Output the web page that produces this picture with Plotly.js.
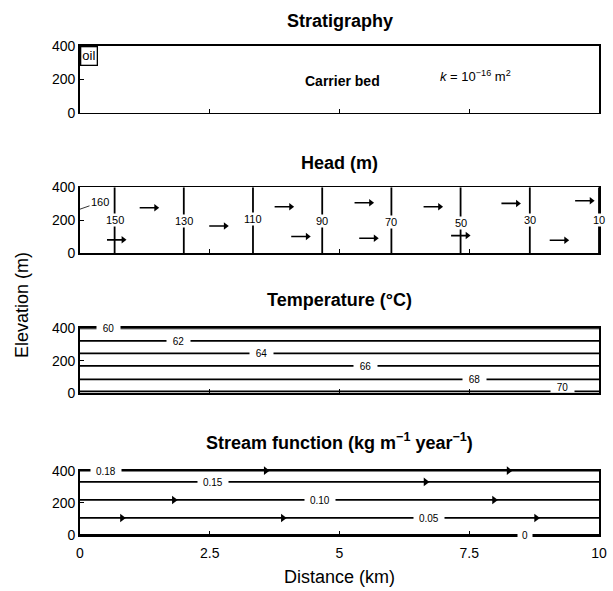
<!DOCTYPE html>
<html><head><meta charset="utf-8">
<script src="https://cdn.plot.ly/plotly-3.0.1.min.js"></script>
<style>html,body{margin:0;padding:0;background:#fff}</style>
</head><body><div id="chart" style="width:613px;height:591px"></div>
<script>
// ---------- data ----------
const distanceTicks = [0, 2.5, 5, 7.5, 10];
const distanceTickText = ['0', '2.5', '5', '7.5', '10'];
const elevationTicks = [0, 200, 400];
const elevationTickText = ['0', '200', '400'];

const panelTitles = ['Stratigraphy', 'Head (m)', 'Temperature (°C)',
  'Stream function (kg m<sup>−1</sup> year<sup>−1</sup>)'];

// Head (m): vertical isolines
const headLevels = [150, 130, 110, 90, 70, 50, 30, 10];
const headX = [0.667, 2.0, 3.333, 4.667, 6.0, 7.333, 8.667, 10];
const headLabelElev = [198, 192, 206, 196, 186, 184, 198, 202];
const headLeftLevel = 160;
const headLeftElev = 267;
// flow arrows (tail position)
const headArrowX = [0.52, 1.15, 2.49, 3.75, 4.07, 5.29, 5.38, 6.62, 7.15, 8.12, 9.05, 9.54];
const headArrowElev = [80, 276, 164, 282, 100, 306, 90, 282, 106, 302, 78, 318];

// Temperature (°C): horizontal isotherms
const tempLevels = [60, 62, 64, 66, 68, 70];
const tempElev = [400, 323, 246, 169, 86, 12];
const tempLabelX = [0.54, 1.9, 3.5, 5.5, 7.6, 9.3];
const tempLabelElev = [400, 323, 246, 169, 86, 36];

// Stream function: streamlines
const streamLevels = ['0.18', '0.15', '0.10', '0.05', '0'];
const streamElev = [400, 330, 218, 106, 0];
const streamLabelX = [0.5, 2.57, 4.63, 6.72, 8.58];
const streamArrowX = [3.58, 8.26, 6.66, 1.81, 7.98, 0.81, 3.91, 8.79];
const streamArrowElev = [400, 400, 330, 218, 218, 106, 106, 106];

// ---------- styling ----------
const FONT = 'Liberation Sans, Arial, Helvetica, sans-serif';
const BLACK = '#000000';
const LW = 1.8;
const arrowLenKm = 0.385, headTipBackKm = 0.072;

const traces = [];
// invisible trace to anchor stratigraphy axes
traces.push({x: [0, 10], y: [0, 400], xaxis: 'x', yaxis: 'y', mode: 'markers',
  marker: {opacity: 0}, hoverinfo: 'skip', showlegend: false});

// head isolines
{
  const xs = [], ys = [];
  headX.forEach(h => { xs.push(h, h, null); ys.push(0, 400, null); });
  traces.push({x: xs, y: ys, xaxis: 'x2', yaxis: 'y2', mode: 'lines',
    line: {color: BLACK, width: LW}, hoverinfo: 'skip', showlegend: false});
}
// head arrows
{
  const xs = [], ys = [], tx = [];
  headArrowX.forEach((a, i) => {
    const c = a + arrowLenKm - headTipBackKm;
    xs.push(a, c, null); ys.push(headArrowElev[i], headArrowElev[i], null);
    tx.push(c);
  });
  traces.push({x: xs, y: ys, xaxis: 'x2', yaxis: 'y2', mode: 'lines',
    line: {color: BLACK, width: 1.6}, hoverinfo: 'skip', showlegend: false});
  traces.push({x: tx, y: headArrowElev, xaxis: 'x2', yaxis: 'y2', mode: 'markers',
    marker: {symbol: 'triangle-right', size: 6.5, color: BLACK, line: {width: 0}},
    cliponaxis: false, hoverinfo: 'skip', showlegend: false});
}
// temperature lines
{
  const xs = [], ys = [];
  tempElev.forEach(e => { xs.push(0, 10, null); ys.push(e, e, null); });
  traces.push({x: xs, y: ys, xaxis: 'x3', yaxis: 'y3', mode: 'lines',
    line: {color: BLACK, width: LW}, hoverinfo: 'skip', showlegend: false});
}
// stream lines
{
  const xs = [], ys = [];
  streamElev.forEach(e => { xs.push(0, 10, null); ys.push(e, e, null); });
  traces.push({x: xs, y: ys, xaxis: 'x4', yaxis: 'y4', mode: 'lines',
    line: {color: BLACK, width: LW}, hoverinfo: 'skip', showlegend: false});
  traces.push({x: streamArrowX, y: streamArrowElev, xaxis: 'x4', yaxis: 'y4', mode: 'markers',
    marker: {symbol: 'triangle-right', size: 7.5, color: BLACK, line: {width: 0}},
    cliponaxis: false, hoverinfo: 'skip', showlegend: false});
}

// ---------- axes ----------
const yDomains = [[0.8636, 1], [0.5767, 0.7110], [0.2898, 0.4227], [0, 0.1315]];
const titleY = [1.0511, 0.7607, 0.4806, 0.1922];
const layout = {
  width: 613, height: 591,
  margin: {l: 80, r: 14, t: 46, b: 56},
  paper_bgcolor: '#fff', plot_bgcolor: '#fff',
  font: {family: FONT, color: BLACK, size: 14},
  showlegend: false,
  annotations: []
};
for (let i = 0; i < 4; i++) {
  const s = i === 0 ? '' : String(i + 1);
  layout['xaxis' + s] = {
    domain: [0, 1], range: [0, 10], anchor: 'y' + s,
    tickvals: distanceTicks, ticktext: distanceTickText,
    showticklabels: i === 3, ticks: 'inside', ticklen: 4, tickwidth: 1.3, tickcolor: BLACK,
    showline: true, linewidth: LW, linecolor: BLACK, mirror: true,
    showgrid: false, zeroline: false, fixedrange: true,
    tickfont: {size: 14, color: BLACK, family: FONT}, ticklabelstandoff: 4
  };
  layout['yaxis' + s] = {
    domain: yDomains[i], range: [0, 400], anchor: 'x' + s,
    tickvals: elevationTicks, ticktext: elevationTickText,
    ticks: 'inside', ticklen: 4, tickwidth: 1.3, tickcolor: BLACK,
    showline: true, linewidth: LW, linecolor: BLACK, mirror: true,
    showgrid: false, zeroline: false, fixedrange: true,
    tickfont: {size: 14, color: BLACK, family: FONT}
  };
  layout.annotations.push({
    text: '<b>' + panelTitles[i] + '</b>', xref: 'paper', yref: 'paper',
    x: 0.5, y: titleY[i], xanchor: 'center', yanchor: 'middle', showarrow: false,
    font: {size: 18, family: FONT, color: BLACK}
  });
}
// axis titles
layout.annotations.push({text: 'Elevation (m)', xref: 'paper', yref: 'paper',
  x: -0.1118, y: 0.4703, xanchor: 'center', yanchor: 'middle', textangle: -90,
  showarrow: false, font: {size: 18, family: FONT, color: BLACK}});
layout.annotations.push({text: 'Distance (km)', xref: 'paper', yref: 'paper',
  x: 0.5, y: -0.0859, xanchor: 'center', yanchor: 'middle',
  showarrow: false, font: {size: 18, family: FONT, color: BLACK}});

// stratigraphy labels
layout.annotations.push({text: 'oil', xref: 'x', yref: 'y', x: 0, y: 400,
  xanchor: 'left', yanchor: 'top', showarrow: false, bordercolor: BLACK,
  borderwidth: 1.3, borderpad: 1, bgcolor: '#fff', font: {size: 13, family: FONT, color: BLACK}});
layout.annotations.push({text: '<b>Carrier bed</b>', xref: 'x', yref: 'y', x: 5.05, y: 192,
  showarrow: false, font: {size: 14, family: FONT, color: BLACK}});
layout.annotations.push({text: '<i>k</i> = 10<sup>−16</sup> m<sup>2</sup>', xref: 'x', yref: 'y',
  x: 7.62, y: 218, showarrow: false, font: {size: 13, family: FONT, color: BLACK}});

// head labels
headLevels.forEach((lv, i) => {
  layout.annotations.push({text: String(lv), xref: 'x2', yref: 'y2', x: headX[i], y: headLabelElev[i],
    showarrow: false, bgcolor: '#fff', borderpad: 0,
    font: {size: 11, family: FONT, color: BLACK}});
});
layout.annotations.push({text: String(headLeftLevel), xref: 'x2', yref: 'y2', x: 0, y: headLeftElev,
  showarrow: true, arrowhead: 0, arrowwidth: 0.8, arrowcolor: BLACK, ax: 20, ay: -7,
  font: {size: 11, family: FONT, color: BLACK}});

// temperature labels
tempLevels.forEach((lv, i) => {
  const t = String(lv);
  layout.annotations.push({text: t, xref: 'x3', yref: 'y3', x: tempLabelX[i], y: tempLabelElev[i],
    showarrow: false, bgcolor: '#fff', borderpad: 0, width: t.length * 5.6 + 12, height: 10,
    font: {size: 10, family: FONT, color: BLACK}});
});
// stream labels
streamLevels.forEach((lv, i) => {
  layout.annotations.push({text: lv, xref: 'x4', yref: 'y4', x: streamLabelX[i], y: streamElev[i],
    showarrow: false, bgcolor: '#fff', borderpad: 0, width: lv.length * 5.2 + 9, height: 10,
    font: {size: 10, family: FONT, color: BLACK}});
});

Plotly.newPlot('chart', traces, layout, {staticPlot: true, displayModeBar: false});
</script></body></html>
